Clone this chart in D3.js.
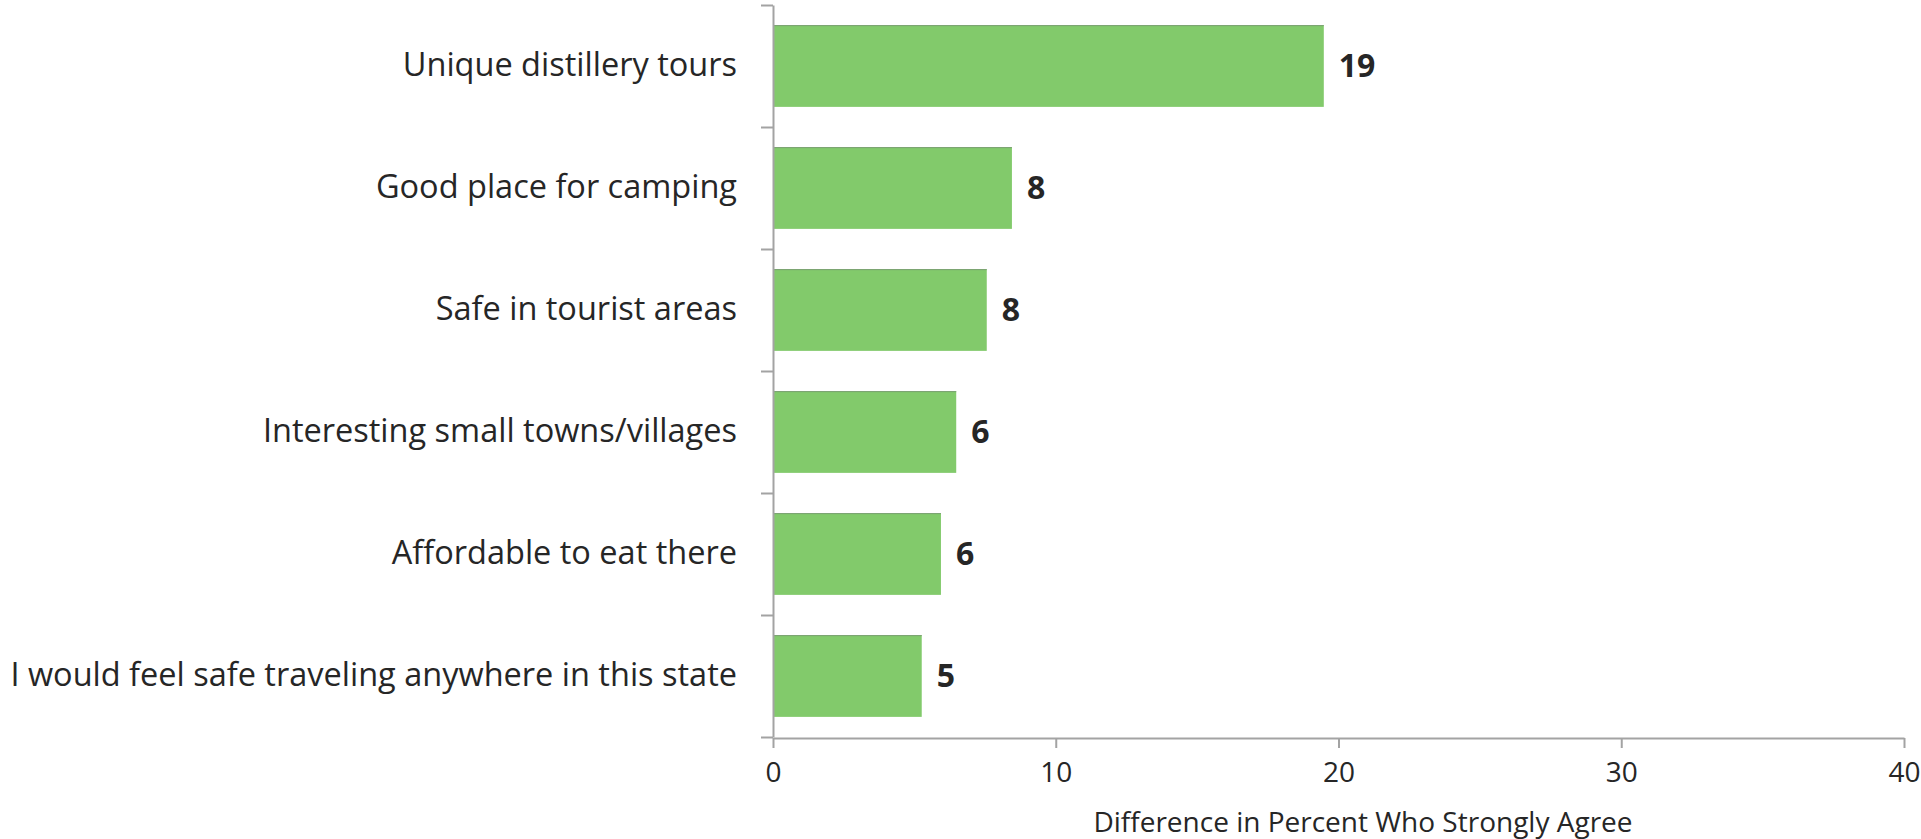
<!DOCTYPE html>
<html>
<head>
<meta charset="utf-8">
<script src="https://cdn.jsdelivr.net/npm/d3@7"></script>
<style>
  body { margin: 0; background: #fff; }
  svg text { font-family: "Open Sans", sans-serif; fill: #262626; }
</style>
</head>
<body>
<svg width="1921" height="839"></svg>
<script>
// data
var categories = [
  "Unique distillery tours",
  "Good place for camping",
  "Safe in tourist areas",
  "Interesting small towns/villages",
  "Affordable to eat there",
  "I would feel safe traveling anywhere in this state"
];
var values = [19.48, 8.45, 7.56, 6.48, 5.94, 5.26];
var xTicks = [0, 10, 20, 30, 40];
var xTitle = "Difference in Percent Who Strongly Agree";

var svg = d3.select("svg"),
  plotLeft = 773,
  plotRight = 1904,
  plotTop = 5,
  plotBottom = 737;

var data = categories.map(function (c, i) {
  return { name: c, value: values[i] };
});

var x = d3.scaleLinear().domain([0, 40]).range([plotLeft, plotRight]);

var y = d3
  .scaleBand()
  .domain(categories)
  .range([plotTop, plotBottom])
  .paddingInner(0.33)
  .paddingOuter(0.165);

// boundary ticks on the category axis
var yEdge = d3
  .scaleLinear()
  .domain([0, categories.length])
  .range([plotTop, plotBottom]);

var gray = "#a3a3a3";

// bars
svg
  .append("g")
  .selectAll("rect")
  .data(data)
  .enter()
  .append("rect")
  .attr("x", x(0))
  .attr("y", function (d) {
    return y(d.name);
  })
  .attr("width", function (d) {
    return x(d.value) - x(0);
  })
  .attr("height", y.bandwidth())
  .attr("fill", "#82ca6b");

// thin shaded top edge like the original
svg
  .append("g")
  .selectAll("line")
  .data(data)
  .enter()
  .append("line")
  .attr("x1", x(0))
  .attr("x2", function (d) {
    return x(d.value);
  })
  .attr("y1", function (d) {
    return y(d.name) + 0.5;
  })
  .attr("y2", function (d) {
    return y(d.name) + 0.5;
  })
  .attr("stroke", "#7a9f70")
  .attr("stroke-width", 1);

// value labels
svg
  .append("g")
  .selectAll("text")
  .data(data)
  .enter()
  .append("text")
  .attr("x", function (d) {
    return x(d.value) + 15;
  })
  .attr("y", function (d) {
    return y(d.name) + y.bandwidth() / 2;
  })
  .attr("dy", "0.35em")
  .style("font-size", "32px")
  .style("font-weight", "bold")
  .text(function (d) {
    return d3.format(".0f")(d.value);
  });

// y axis: line + boundary ticks
var yAxis = svg
  .append("g")
  .attr("transform", "translate(" + plotLeft + ",0)")
  .call(
    d3
      .axisLeft(yEdge)
      .tickValues(d3.range(categories.length + 1))
      .tickSize(12)
      .tickSizeOuter(0)
      .tickFormat("")
  );
yAxis.selectAll("line,path").attr("stroke", gray).attr("stroke-width", 2);

// category labels
var yLabels = svg
  .append("g")
  .attr("transform", "translate(" + plotLeft + ",0)")
  .call(d3.axisLeft(y).tickSize(0).tickPadding(36));
yLabels.select(".domain").remove();
yLabels.selectAll("text").style("font-size", "32.5px").attr("fill", "#262626");

// x axis
var xAxis = svg
  .append("g")
  .attr("transform", "translate(0," + (plotBottom + 1) + ")")
  .call(
    d3
      .axisBottom(x)
      .tickValues(xTicks)
      .tickSize(10)
      .tickSizeOuter(0)
      .tickPadding(14)
  );
xAxis.selectAll("line,path").attr("stroke", gray).attr("stroke-width", 2);
xAxis.selectAll("text").style("font-size", "28px").attr("fill", "#262626");

svg
  .append("text")
  .attr("x", 1363)
  .attr("y", 822)
  .attr("dy", "0.35em")
  .attr("text-anchor", "middle")
  .style("font-size", "28px")
  .text(xTitle);
</script>
</body>
</html>
